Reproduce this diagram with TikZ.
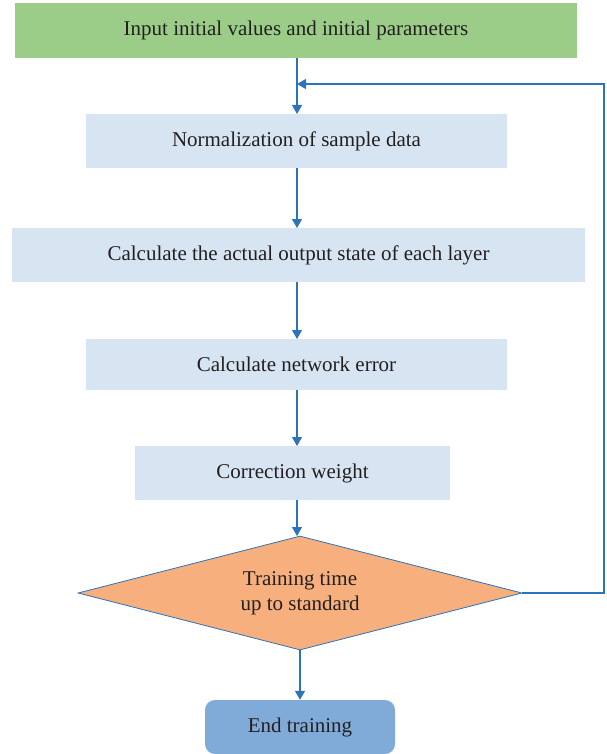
\documentclass[tikz,border=0pt]{standalone}
\usepackage{fontspec}
\setmainfont{Liberation Serif}
\usetikzlibrary{shapes.geometric,arrows.meta}
\definecolor{gbox}{HTML}{9BCD88}
\definecolor{lbox}{HTML}{D7E5F3}
\definecolor{obox}{HTML}{F7AF7D}
\definecolor{ebox}{HTML}{80ABD9}
\definecolor{arr}{HTML}{2B73BA}
\definecolor{txt}{HTML}{231F20}
\tikzset{
  box/.style={fill=lbox,draw=none,inner sep=0pt,text=txt,font=\fontsize{21}{25}\selectfont},
  conn/.style={draw=arr,line width=1.3pt,-{Triangle[length=9pt,width=10pt]}},
}
\begin{document}
\begin{tikzpicture}[x=1pt,y=-1pt]
\useasboundingbox (0,0) rectangle (606,754);
\node[box,fill=gbox,minimum width=562pt,minimum height=55pt] (in) at (296,30.5) {Input initial values and initial parameters};
\node[box,minimum width=421pt,minimum height=54pt] (norm) at (296.5,141) {Normalization of sample data};
\node[box,minimum width=573pt,minimum height=54pt] (calc) at (298.5,255) {Calculate the actual output state of each layer};
\node[box,minimum width=421pt,minimum height=51pt] (err) at (296.5,364.5) {Calculate network error};
\node[box,minimum width=315pt,minimum height=54pt] (corr) at (292.5,473) {Correction weight};
\node[box,fill=obox,draw=arr,line width=0.8pt,shape=diamond,aspect=3.9,minimum width=444pt,minimum height=114pt,align=center] (dec) at (300,593) {Training time\\up to standard};
\node[box,fill=ebox,rounded corners=10pt,minimum width=190pt,minimum height=54pt] (end) at (300,727) {End training};
\coordinate (tr) at (604,593);
\coordinate (tt) at (604,84);
\coordinate (jn) at (297,84);
\draw[conn] (297,58) coordinate (a0) -- (297,114);
\draw[conn] (297,168) -- (297,228);
\draw[conn] (297,282) -- (297,339);
\draw[conn] (297,390) -- (297,446);
\draw[conn] (297,500) -- (297,536);
\draw[conn] (dec.south) -- (end.north);
\draw[conn] (dec.east) -- (tr) -- (tt) -- (jn);
\end{tikzpicture}
\end{document}
